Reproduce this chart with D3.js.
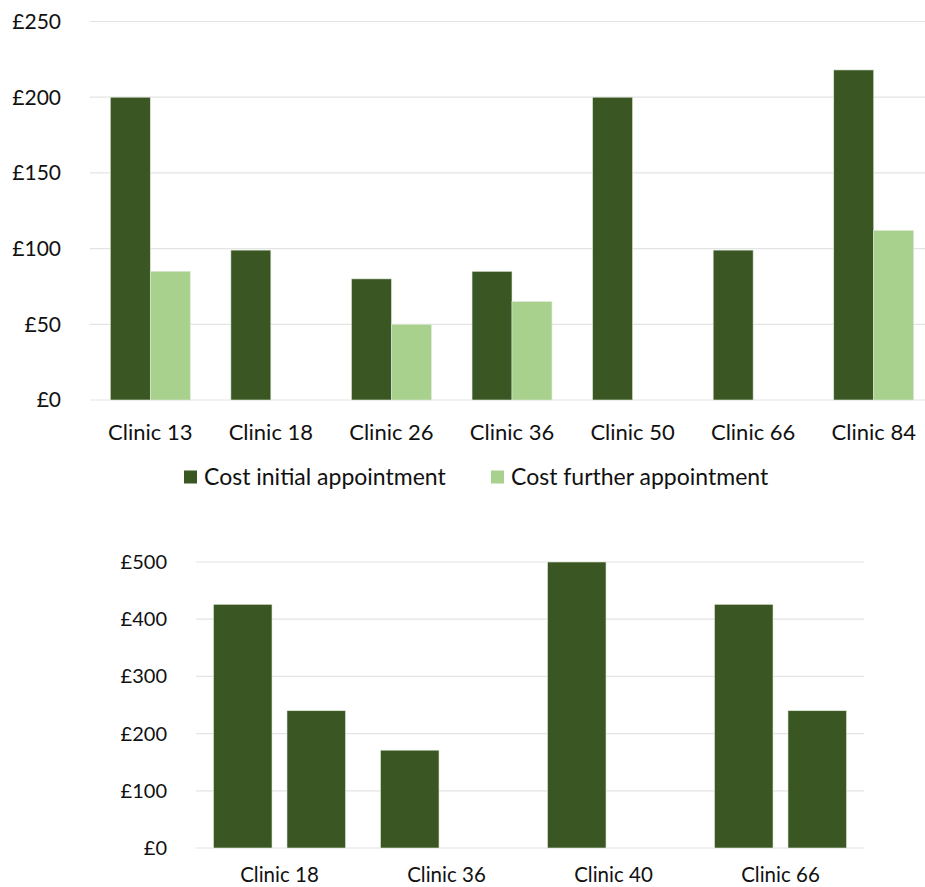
<!DOCTYPE html>
<html>
<head>
<meta charset="utf-8">
<script src="https://cdn.jsdelivr.net/npm/d3@7"></script>
<style>
  body { margin: 0; background: #fff; }
  svg { display: block; font-family: Lato, "Open Sans", sans-serif; }
</style>
</head>
<body>
<svg id="chart" width="925" height="887"></svg>
<script>
// top chart data
const topClinics = ["Clinic 13", "Clinic 18", "Clinic 26", "Clinic 36", "Clinic 50", "Clinic 66", "Clinic 84"];
const topInitial = [200, 99, 80, 85, 200, 99, 218];
const topFurther = [85, null, 50, 65, null, null, 112];
const topTicks = [0, 50, 100, 150, 200, 250];

// bottom chart data
const bottomClinics = ["Clinic 18", "Clinic 36", "Clinic 40", "Clinic 66"];
const bottomInitial = [426, 171, 500, 426];
const bottomFurther = [240, null, null, 240];
const bottomTicks = [0, 100, 200, 300, 400, 500];

const seriesNames = ["Cost initial appointment", "Cost further appointment"];

const darkGreen = "#3a5723";
const lightGreen = "#a9d18e";
const gridColor = "#e4e4e4";

const svg = d3.select("#chart");
const fmt = d => `£${d}`;

function drawChart(opts) {
  const g = svg.append("g");
  const y = d3.scaleLinear().domain(opts.yDomain).range(opts.yRange);
  const x0 = d3.scaleBand().domain(opts.clinics).range(opts.xRange)
    .paddingInner(opts.pad).paddingOuter(opts.pad / 2);
  const x1 = d3.scaleBand().domain(seriesNames).range([0, x0.bandwidth()])
    .paddingInner(opts.innerPad);

  // gridlines
  g.append("g").selectAll("line")
    .data(opts.ticks)
    .enter().append("line")
    .attr("x1", opts.gridX[0])
    .attr("x2", opts.gridX[1])
    .attr("y1", d => y(d))
    .attr("y2", d => y(d))
    .attr("stroke", gridColor)
    .attr("stroke-width", 1.2);

  // y labels
  g.append("g").selectAll("text")
    .data(opts.ticks)
    .enter().append("text")
    .attr("x", opts.labelX)
    .attr("y", d => y(d))
    .attr("dy", "0.35em")
    .attr("text-anchor", "end")
    .attr("font-size", opts.yFontSize)
    .attr("fill", "#111")
    .text(fmt);

  const rows = opts.clinics.map((c, i) => ({
    clinic: c,
    values: [
      {key: seriesNames[0], value: opts.initial[i]},
      {key: seriesNames[1], value: opts.further[i]}
    ].filter(v => v.value != null)
  }));

  const groups = g.append("g").selectAll("g")
    .data(rows)
    .enter().append("g")
    .attr("transform", d => `translate(${x0(d.clinic)},0)`);

  groups.selectAll("rect")
    .data(d => d.values)
    .enter().append("rect")
    .attr("x", d => x1(d.key))
    .attr("width", x1.bandwidth())
    .attr("y", d => y(d.value))
    .attr("height", d => y(0) - y(d.value))
    .attr("fill", d => opts.colors[seriesNames.indexOf(d.key)])
    .attr("stroke", "#dfe8d8")
    .attr("stroke-width", 0.6);

  // x labels
  g.append("g").selectAll("text")
    .data(opts.clinics)
    .enter().append("text")
    .attr("x", d => x0(d) + x0.bandwidth() / 2)
    .attr("y", opts.xLabelY)
    .attr("dy", "0.35em")
    .attr("text-anchor", "middle")
    .attr("font-size", opts.xFontSize)
    .attr("fill", "#111")
    .text(d => d);
}

drawChart({
  clinics: topClinics,
  initial: topInitial,
  further: topFurther,
  ticks: topTicks,
  yDomain: [0, 250],
  yRange: [400, 21.5],
  xRange: [90, 934],
  gridX: [90, 925],
  pad: 0.337,
  innerPad: 0,
  labelX: 61,
  xLabelY: 432,
  yFontSize: 21,
  xFontSize: 22,
  colors: [darkGreen, lightGreen]
});

drawChart({
  clinics: bottomClinics,
  initial: bottomInitial,
  further: bottomFurther,
  ticks: bottomTicks,
  yDomain: [0, 500],
  yRange: [848, 562],
  xRange: [196, 864],
  gridX: [196, 864],
  pad: 0.21,
  innerPad: 0.204,
  labelX: 167,
  xLabelY: 875,
  yFontSize: 20,
  xFontSize: 20.5,
  colors: [darkGreen, darkGreen]
});

// legend for top chart
const legendItems = [
  {name: seriesNames[0], color: darkGreen, x: 184},
  {name: seriesNames[1], color: lightGreen, x: 491}
];
const legend = svg.append("g").attr("class", "legend");
const li = legend.selectAll("g")
  .data(legendItems)
  .enter().append("g")
  .attr("transform", d => `translate(${d.x},477)`);
li.append("rect")
  .attr("x", 0)
  .attr("y", -6.5)
  .attr("width", 13)
  .attr("height", 13)
  .attr("fill", d => d.color);
li.append("text")
  .attr("x", 20)
  .attr("dy", "0.35em")
  .attr("font-size", 23)
  .attr("fill", "#111")
  .text(d => d.name);
</script>
</body>
</html>
